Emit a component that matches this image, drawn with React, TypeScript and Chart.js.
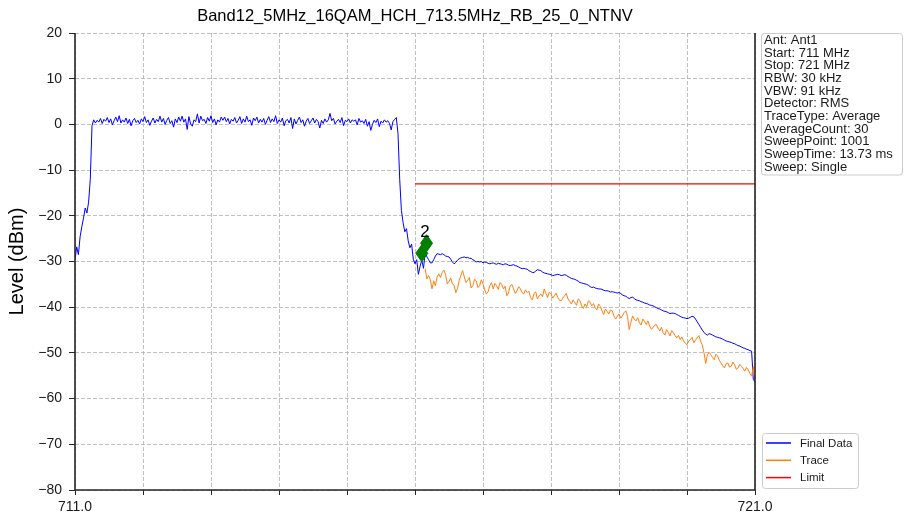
import React, { useEffect, useRef } from 'react';
import { Chart, registerables } from 'chart.js';

Chart.register(...registerables);

const TITLE = 'Band12_5MHz_16QAM_HCH_713.5MHz_RB_25_0_NTNV';
const Y_LABEL = 'Level (dBm)';
const X_MIN = 711;
const X_MAX = 721;
const X_STEP = 1;
const X_TICK_LABELS = [711, 721];
const Y_MIN = -80;
const Y_MAX = 20;
const Y_STEP = 10;

// Final Data (blue), sampled every 0.025 MHz from 711.000 MHz
const FINAL_START = 711.0;
const FINAL_STEP = 0.025;
const FINAL_DATA = [
  // rising edge 711.000 - 711.250
  -29.7, -26.8, -28.5, -24.6, -22.4, -20.5, -18.3, -19.4, -17.0, -12.0, -0.3,
  // in-band 711.275 - 715.725
  1.0, 0.3, 0.9, 0.5, 1.3, 0.2, 1.1, 0.7, 1.5, 0.4,
  1.2, -0.1, 0.8, 1.6, 0.6, 1.9, 0.3, 1.0, 0.5, 1.4,
  0.2, 1.1, -0.3, 0.8, 1.3, 0.4, 0.9, 0.1, 1.2, 0.6,
  1.7, 0.4, 1.0, -0.2, 0.7, 1.4, 0.3, 1.1, 0.6, 1.8,
  0.5, 1.3, 0.0, 0.9, 1.5, 0.2, 0.8, -0.6, 1.2, 0.4,
  1.6, 0.7, 1.8, 0.5, 1.2, -1.1, 1.7, 0.1, -0.4, 1.0,
  0.6, 2.3, 0.3, 1.8, 0.8, 1.1, 0.2, 1.5, 0.7, 1.9,
  0.4, 1.2, -0.1, 1.0, 0.5, 1.6, 0.9, 1.6, 0.6, 1.3,
  0.1, 1.1, 0.7, 1.5, 0.3, 0.9, 1.7, 0.2, 1.2, 0.5,
  1.8, 0.6, 1.0, -0.2, 1.4, 0.8, 1.6, 0.3, 1.1, 0.5,
  1.3, 0.0, 0.9, 1.7, 0.4, 1.2, 0.6, 1.9, 0.2, 1.0,
  0.5, 1.4, -0.3, 0.8, 1.1, 0.3, 1.5, -0.9, 1.2, 0.1,
  0.9, 1.6, 0.4, 1.0, -0.4, 0.7, 1.3, 0.2, 0.8, 1.4,
  0.3, 1.1, 0.6, -0.8, 0.9, 0.2, 1.2, 0.5, 1.0, 2.4,
  0.8, 1.3, 0.1, 0.7, 1.1, 0.4, 1.5, -0.3, 0.9, 0.6,
  1.2, 0.3, 1.0, 0.7, 1.0, -0.1, 1.3, 0.5, 0.8, 0.2,
  1.1, -0.4, 0.6, -1.3, 0.0, 0.9, 0.4, 1.2, -0.5, 0.7,
  0.3, 1.0, 0.5, 0.8, 0.2, -1.2, 0.6, 1.1, 1.5,
  // falling edge 715.750 - 716.225
  -2.0, -12.0, -18.8, -21.5, -23.5, -22.8, -25.5, -27.0, -26.2, -29.5,
  -30.5, -29.6, -32.8, -31.0, -29.7, -31.5, -28.0, -29.0, -29.6, -30.3,
  // 716.250 - 716.975
  -30.3, -29.6, -28.8, -28.3, -28.4, -28.5, -28.3, -28.5, -28.8, -28.9,
  -29.0, -29.5, -30.1, -30.5, -30.2, -29.7, -29.4, -29.2, -29.1, -29.0,
  -29.2, -29.1, -29.3, -29.3, -29.6, -29.8, -30.1, -30.0, -30.1, -30.0,
  // 717.000 - 721.000
  -30.3, -30.1, -30.2, -30.4, -30.5, -30.4, -30.3, -30.5, -30.6, -30.4,
  -30.5, -30.6, -30.7, -30.5, -30.6, -30.8, -30.9, -30.8, -30.7, -30.9,
  -31.0, -31.2, -31.4, -31.6, -31.5, -31.6, -31.7, -32.0, -32.2, -32.4,
  -32.4, -32.1, -31.8, -31.9, -32.0, -32.3, -32.5, -32.6, -32.7, -32.8,
  -32.9, -33.1, -33.0, -32.9, -32.8, -32.9, -33.1, -33.0, -32.9, -33.0,
  -33.3, -33.5, -33.7, -33.8, -33.9, -34.1, -34.3, -34.6, -34.7, -34.8,
  -34.9, -35.0, -35.2, -35.5, -35.7, -35.6, -35.8, -35.9, -36.0, -36.0,
  -36.1, -36.3, -36.4, -36.4, -36.5, -36.7, -36.6, -36.7, -36.8, -36.9,
  -36.8, -37.0, -37.3, -37.5, -37.6, -37.9, -38.1, -37.9, -37.8, -38.1,
  -38.4, -38.5, -38.6, -38.8, -38.9, -39.1, -39.2, -39.3, -39.5, -39.6,
  -39.7, -39.9, -40.1, -40.3, -40.4, -40.6, -40.8, -40.9, -41.0, -41.2,
  -41.4, -41.3, -41.3, -41.4, -41.6, -41.8, -42.0, -42.2, -42.3, -42.4,
  -42.5, -42.4, -42.2, -42.0, -42.1, -42.6, -43.2, -43.8, -44.4, -45.0,
  -45.5, -45.9, -46.1, -45.8, -45.9, -46.1, -46.3, -46.5, -46.6, -46.7,
  -46.8, -47.0, -47.2, -47.4, -47.5, -47.6, -47.7, -47.9, -48.0, -48.2,
  -48.4, -48.5, -48.7, -48.9, -49.0, -49.2, -49.3, -49.5, -49.6, -55.8,
  -56.4,
];

// Trace (orange), sampled every 0.025 MHz from 716.150 MHz
const TRACE_START = 716.15;
const TRACE_STEP = 0.025;
const TRACE_DATA = [
  -31.6, -33.8, -33.1, -34.0, -36.0, -34.2, -35.3, -33.4, -32.7, -33.5, -32.4, -31.9, -32.9, -34.9, -34.4, -33.6, -34.9, -35.2, -36.8, -35.9,
  -34.2, -33.0, -32.0, -33.4, -34.6, -34.1, -33.5, -35.8, -35.3, -33.9, -34.2, -35.7, -35.3, -34.0, -34.9, -36.2, -37.1, -36.6, -35.3, -34.6,
  -36.0, -34.8, -35.3, -36.1, -34.6, -35.0, -36.0, -35.4, -37.5, -36.9, -35.3, -35.0, -36.0, -37.0, -36.4, -35.5, -36.0, -36.8, -37.1, -36.2,
  -36.8, -36.5, -37.9, -38.4, -37.1, -36.6, -38.2, -37.5, -37.1, -37.7, -36.0, -36.9, -37.9, -36.7, -37.1, -38.0, -37.5, -36.9, -37.9, -38.5,
  -38.6, -38.0, -37.5, -37.0, -38.2, -38.7, -39.3, -38.4, -39.0, -39.6, -38.2, -38.5, -39.7, -40.3, -39.3, -39.9, -38.6, -38.9, -39.7, -39.2,
  -40.1, -40.6, -39.3, -39.8, -40.8, -41.6, -40.4, -40.9, -41.5, -40.6, -40.8, -41.9, -42.6, -42.0, -41.5, -42.4, -41.9, -41.2, -40.8, -42.0,
  -44.9, -43.3, -41.9, -42.6, -43.0, -42.3, -43.4, -43.9, -42.6, -43.1, -43.8, -43.0, -44.1, -44.8, -44.5, -43.9, -43.8, -44.6, -45.2, -44.4,
  -45.6, -46.1, -44.9, -45.5, -46.3, -45.1, -45.6, -46.2, -46.7, -46.2, -47.1, -46.5, -47.4, -47.9, -48.2, -47.4, -47.1, -46.6, -47.8, -47.2,
  -46.7, -46.2, -47.4, -48.3, -50.0, -52.3, -50.4, -49.9, -50.4, -51.0, -51.5, -50.3, -50.7, -51.6, -52.2, -52.8, -53.3, -52.4, -52.2, -53.1,
  -52.9, -52.0, -52.6, -53.6, -53.3, -52.5, -52.9, -53.4, -54.0, -53.2, -53.7, -54.5, -55.1, -53.0, -56.3,
];

const LIMIT_FREQS = [716, 721];
const LIMIT_LEVELS = [-13, -13];

const MARKER_FREQS = [716.1, 716.17];
const MARKER_LEVELS = [-28.2, -26.0];
const MARKER_LABELS = ['1', '2'];

const INFO_LINES = [
  'Ant: Ant1',
  'Start: 711 MHz',
  'Stop: 721 MHz',
  'RBW: 30 kHz',
  'VBW: 91 kHz',
  'Detector: RMS',
  'TraceType: Average',
  'AverageCount: 30',
  'SweepPoint: 1001',
  'SweepTime: 13.73 ms',
  'Sweep: Single',
];

const SERIES_NAMES = ['Final Data', 'Trace', 'Limit'];
const SERIES_COLORS = ['#0000ff', '#ff7f0e', '#ff0000'];

const FONT = '"Liberation Sans", Arial, sans-serif';

function toPoints(start: number, step: number, values: number[]) {
  return values.map((v, i) => ({ x: +(start + i * step).toFixed(4), y: v }));
}

function roundRect(ctx: CanvasRenderingContext2D, x: number, y: number, w: number, h: number, r: number) {
  ctx.beginPath();
  ctx.moveTo(x + r, y);
  ctx.lineTo(x + w - r, y);
  ctx.arcTo(x + w, y, x + w, y + r, r);
  ctx.lineTo(x + w, y + h - r);
  ctx.arcTo(x + w, y + h, x + w - r, y + h, r);
  ctx.lineTo(x + r, y + h);
  ctx.arcTo(x, y + h, x, y + h - r, r);
  ctx.lineTo(x, y + r);
  ctx.arcTo(x, y, x + r, y, r);
  ctx.closePath();
}

const decorPlugin = {
  id: 'decor',
  beforeDraw(chart: any) {
    const ctx = chart.ctx;
    ctx.save();
    ctx.fillStyle = '#ffffff';
    ctx.fillRect(0, 0, chart.width, chart.height);
    ctx.restore();
  },
  afterDatasetsDraw(chart: any) {
    const ctx: CanvasRenderingContext2D = chart.ctx;
    const { left, right, top, bottom } = chart.chartArea;
    const xs = chart.scales.x;
    const ys = chart.scales.y;

    // markers
    ctx.save();
    for (let i = 0; i < MARKER_FREQS.length; i++) {
      const px = xs.getPixelForValue(MARKER_FREQS[i]);
      const py = ys.getPixelForValue(MARKER_LEVELS[i]);
      ctx.beginPath();
      ctx.moveTo(px, py - 8.5);
      ctx.lineTo(px + 6, py);
      ctx.lineTo(px, py + 8.5);
      ctx.lineTo(px - 6, py);
      ctx.closePath();
      ctx.fillStyle = '#008000';
      ctx.fill();
      ctx.strokeStyle = '#008000';
      ctx.lineWidth = 1;
      ctx.stroke();
    }
    const lastIdx = MARKER_FREQS.length - 1;
    {
      const px = xs.getPixelForValue(MARKER_FREQS[lastIdx]);
      const py = ys.getPixelForValue(MARKER_LEVELS[lastIdx]);
      ctx.fillStyle = '#000000';
      ctx.font = `17px ${FONT}`;
      ctx.textAlign = 'center';
      ctx.textBaseline = 'middle';
      ctx.fillText(MARKER_LABELS[lastIdx], px - 1.5, py - 11);
    }
    ctx.restore();

    // spines
    ctx.save();
    ctx.strokeStyle = '#262626';
    ctx.lineWidth = 1.6;
    ctx.beginPath();
    ctx.moveTo(left, top);
    ctx.lineTo(left, bottom);
    ctx.lineTo(right, bottom);
    ctx.lineTo(right, top);
    ctx.stroke();
    ctx.restore();

    // title
    ctx.save();
    ctx.fillStyle = '#000000';
    ctx.font = `16.5px ${FONT}`;
    ctx.textAlign = 'center';
    ctx.textBaseline = 'middle';
    ctx.fillText(TITLE, (left + right) / 2, 16);
    ctx.restore();

    // y label
    ctx.save();
    ctx.translate(17.5, (top + bottom) / 2);
    ctx.rotate(-Math.PI / 2);
    ctx.fillStyle = '#000000';
    ctx.font = `20px ${FONT}`;
    ctx.textAlign = 'center';
    ctx.textBaseline = 'middle';
    ctx.fillText(Y_LABEL, 0, 0);
    ctx.restore();

    // info box
    ctx.save();
    roundRect(ctx, 761.5, 33.5, 141, 141.5, 3);
    ctx.fillStyle = 'rgba(255,255,255,0.85)';
    ctx.fill();
    ctx.strokeStyle = '#cccccc';
    ctx.lineWidth = 1;
    ctx.stroke();
    ctx.fillStyle = '#1a1a1a';
    ctx.font = `13px ${FONT}`;
    ctx.textAlign = 'left';
    ctx.textBaseline = 'middle';
    INFO_LINES.forEach((t, i) => ctx.fillText(t, 764, 40.5 + i * 12.67));
    ctx.restore();

    // legend
    ctx.save();
    roundRect(ctx, 762.5, 433.5, 96, 55, 3);
    ctx.fillStyle = 'rgba(255,255,255,0.85)';
    ctx.fill();
    ctx.strokeStyle = '#cccccc';
    ctx.lineWidth = 1;
    ctx.stroke();
    ctx.font = `11.5px ${FONT}`;
    ctx.textAlign = 'left';
    ctx.textBaseline = 'middle';
    SERIES_NAMES.forEach((name, i) => {
      const y = 443 + i * 17.3;
      ctx.strokeStyle = SERIES_COLORS[i];
      ctx.lineWidth = 1.5;
      ctx.beginPath();
      ctx.moveTo(766, y);
      ctx.lineTo(791, y);
      ctx.stroke();
      ctx.fillStyle = '#1a1a1a';
      ctx.fillText(name, 800, y + 0.5);
    });
    ctx.restore();
  },
};

export default function App() {
  const canvasRef = useRef<HTMLCanvasElement | null>(null);

  useEffect(() => {
    const canvas = canvasRef.current;
    if (!canvas) return;
    const chart = new Chart(canvas, {
      type: 'line',
      data: {
        datasets: [
          {
            label: SERIES_NAMES[0],
            data: toPoints(FINAL_START, FINAL_STEP, FINAL_DATA),
            borderColor: SERIES_COLORS[0],
            borderWidth: 1,
            pointRadius: 0,
            tension: 0,
            order: 3,
          },
          {
            label: SERIES_NAMES[1],
            data: toPoints(TRACE_START, TRACE_STEP, TRACE_DATA),
            borderColor: SERIES_COLORS[1],
            borderWidth: 1,
            pointRadius: 0,
            tension: 0,
            order: 2,
          },
          {
            label: SERIES_NAMES[2],
            data: LIMIT_FREQS.map((f, i) => ({ x: f, y: LIMIT_LEVELS[i] })),
            borderColor: SERIES_COLORS[2],
            borderWidth: 1.3,
            pointRadius: 0,
            tension: 0,
            order: 1,
          },
        ],
      },
      options: {
        animation: false,
        responsive: false,
        devicePixelRatio: 1,
        layout: { padding: { top: 33, right: 152, left: 0, bottom: 0 } },
        plugins: {
          legend: { display: false },
          tooltip: { enabled: false },
          title: { display: false },
        },
        scales: {
          x: {
            type: 'linear',
            min: X_MIN,
            max: X_MAX,
            ticks: {
              stepSize: X_STEP,
              autoSkip: false,
              maxRotation: 0,
              padding: 4,
              color: '#1a1a1a',
              font: { family: FONT, size: 14 },
              callback: (v: any) => (X_TICK_LABELS.includes(Number(v)) ? Number(v).toFixed(1) : ''),
            },
            grid: {
              color: '#b0b0b0',
              lineWidth: 0.8,
              tickColor: '#262626',
              tickLength: 5,
              tickWidth: 1,
            },
            border: { display: false, dash: [4, 2] },
            afterFit: (s: any) => {
              s.height = 28;
            },
          },
          y: {
            type: 'linear',
            min: Y_MIN,
            max: Y_MAX,
            ticks: {
              stepSize: Y_STEP,
              padding: 7,
              color: '#1a1a1a',
              font: { family: FONT, size: 14 },
              callback: (v: any) => (Number(v) < 0 ? '\u2212' + Math.abs(Number(v)) : String(v)),
            },
            grid: {
              color: '#b0b0b0',
              lineWidth: 0.8,
              tickColor: '#262626',
              tickLength: 6,
              tickWidth: 1,
            },
            border: { display: false, dash: [4, 2] },
            afterFit: (s: any) => {
              s.width = 75;
            },
          },
        },
      } as any,
      plugins: [decorPlugin],
    });
    return () => chart.destroy();
  }, []);

  return (
    <div style={{ position: 'fixed', left: 0, top: 0, width: 907, height: 518, background: '#fff' }}>
      <canvas ref={canvasRef} width={907} height={518} style={{ display: 'block', width: 907, height: 518 }} />
    </div>
  );
}
